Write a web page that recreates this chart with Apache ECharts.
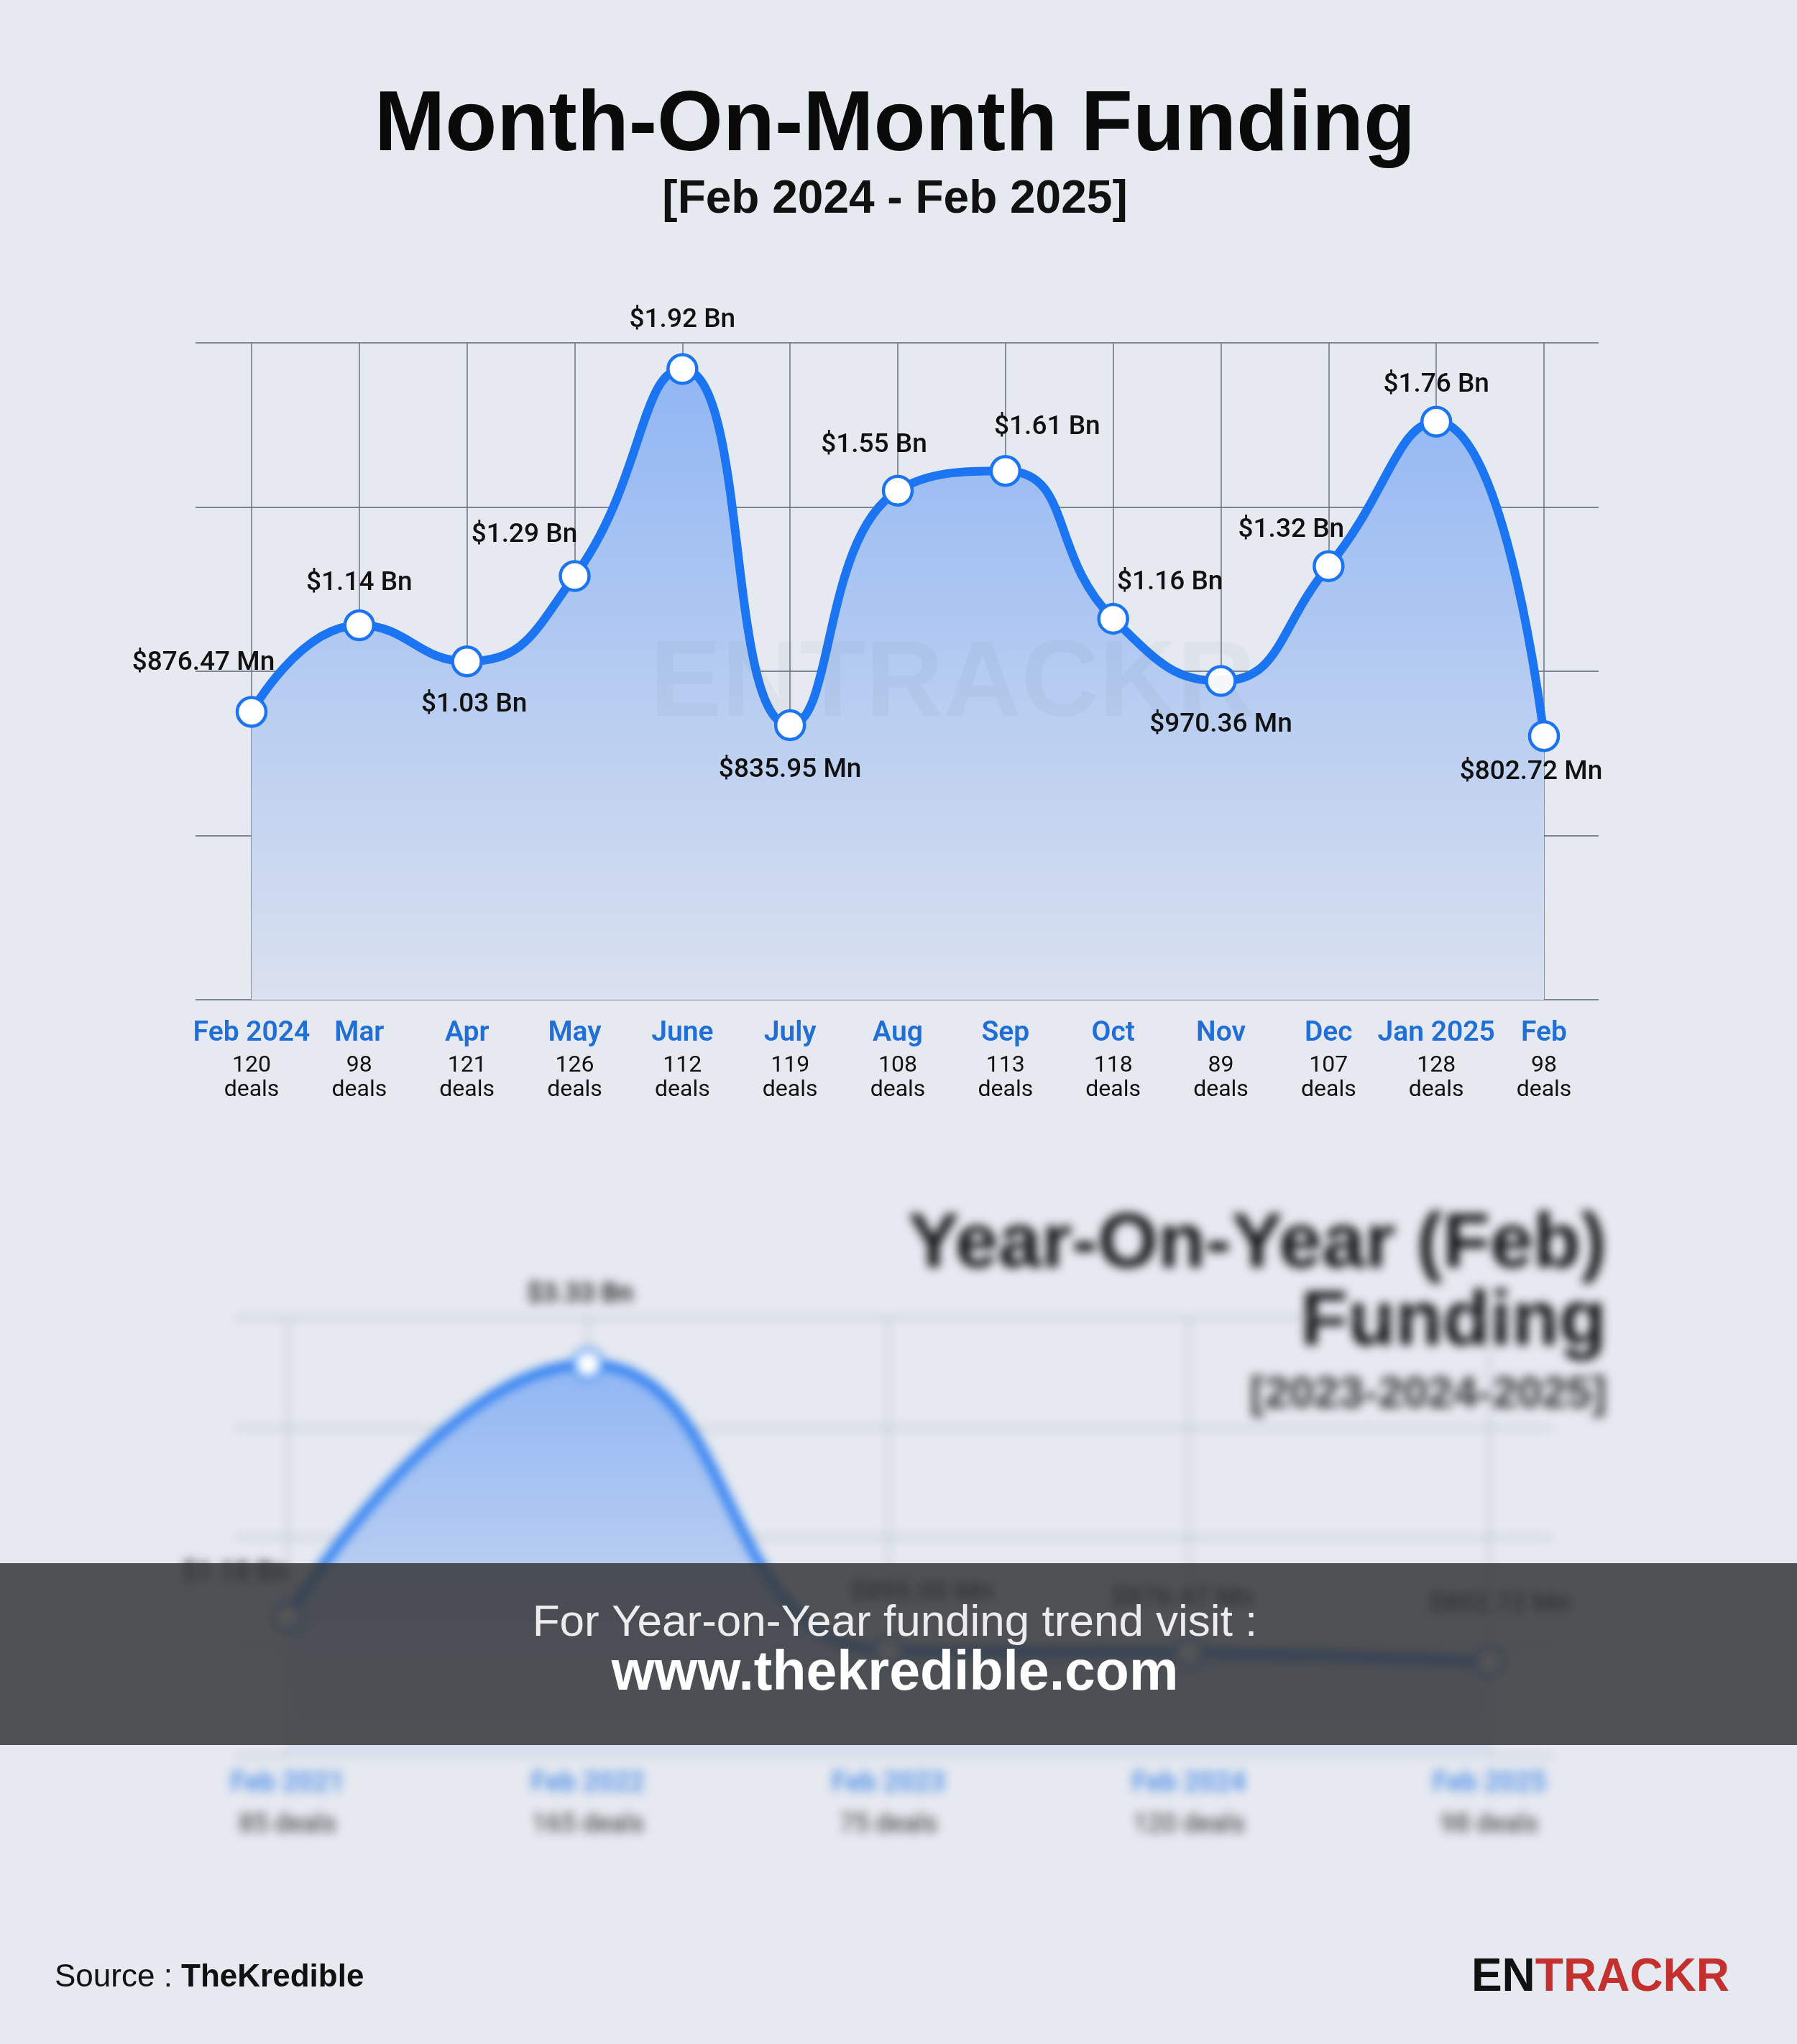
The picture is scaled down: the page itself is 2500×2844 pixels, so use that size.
<!DOCTYPE html>
<html><head><meta charset="utf-8">
<script src="https://cdn.jsdelivr.net/npm/echarts@6/dist/echarts.min.js"></script>
<style>
html,body{margin:0;padding:0;background:#e6e9f0;}
#wrap{position:relative;width:2500px;height:2844px;overflow:hidden;background:#e6e9f0;}
#yoy{position:absolute;left:0;top:1560px;width:2500px;height:1060px;filter:blur(7px);z-index:1;}
#main{position:absolute;left:0;top:0;width:2500px;height:2844px;z-index:2;}
</style></head><body>
<div id="wrap"><div id="yoy"></div><div id="main"></div></div>
<script>
// ---- Month-on-month data ----
const months = ['Feb 2024','Mar','Apr','May','June','July','Aug','Sep','Oct','Nov','Dec','Jan 2025','Feb'];
const fundingMn = [876.47,1140,1030,1290,1920,835.95,1550,1610,1160,970.36,1320,1760,802.72];
const deals = [120,98,121,126,112,119,108,113,118,89,107,128,98];
const yMax = 2000, yStep = 500;

// ---- Year-on-year (Feb) data (blurred panel, estimated) ----
const yoyYears = ['Feb 2021','Feb 2022','Feb 2023','Feb 2024','Feb 2025'];
const yoyFundingMn = [1180,3330,895,876.47,802.72];
const yoyDeals = [85,165,75,120,98];
const yoyMax = 3720, yoyStep = 930;

function fmtMoney(v){ return v >= 1000 ? '$' + (v/1000).toFixed(2) + ' Bn' : '$' + v.toFixed(2) + ' Mn'; }

const FONT = 'Liberation Sans, Arial, Helvetica, sans-serif';
const LFONT = 'Roboto, Liberation Sans, Arial, sans-serif';
const blue = '#1b74f2';

// label placement (style)
const mainLabelOffsets = [[-67,-68],[0,-58],[10,60],[-70,-57],[0,-68],[0,63],[-33,-63],[58,-60],[79,-50],[0,61],[-52,-50],[0,-51],[-18,51]];
const yoyLabelOffsets = [[-73,-60],[-11,-96],[46,-80],[-9,-75],[14,-79]];

function areaGrad(){
  return new echarts.graphic.LinearGradient(0,0,0,1,[
    {offset:0,color:'#90b6f4'},{offset:0.5,color:'#b6ccf1'},{offset:1,color:'#dae1ef'}]);
}

function buildOption(cfg){
  return {
    backgroundColor:'transparent',
    animation:false,
    grid:[
      {left:cfg.lineLeft, top:cfg.top, width:cfg.lineWidth, height:cfg.height},
      {left:cfg.catLeft, top:cfg.top, width:cfg.catWidth, height:cfg.height}
    ],
    xAxis:[
      {gridIndex:0, type:'value', show:false, min:0, max:1},
      {gridIndex:1, type:'category', data:cfg.cats, boundaryGap:false,
        axisLine:{show:false}, axisTick:{show:false},
        splitLine:{show:true, lineStyle:{color:cfg.vColor, width:1.5}},
        axisLabel:{interval:0, margin:cfg.labelMargin, formatter:cfg.labelFmt, rich:cfg.rich}}
    ],
    yAxis:[
      {gridIndex:0, type:'value', min:0, max:cfg.max, interval:cfg.step,
        axisLine:{show:false}, axisTick:{show:false}, axisLabel:{show:false},
        splitLine:{show:true, showMinLine:true, showMaxLine:true, lineStyle:{color:cfg.hColor, width:2}}},
      {gridIndex:1, type:'value', min:0, max:cfg.max, interval:cfg.step, show:false, splitLine:{show:false}}
    ],
    graphic:cfg.graphic,
    series:[{
      type:'line', xAxisIndex:1, yAxisIndex:1,
      data:cfg.values.map((v,i)=>({value:v, label:{offset:cfg.offsets[i]}})),
      smooth:0.5,
      symbol:'circle', symbolSize:40, showAllSymbol:true,
      itemStyle:{color:'#ffffff', borderColor:blue, borderWidth:4.5},
      lineStyle:{color:blue, width:12},
      areaStyle:{color:areaGrad(), opacity:1},
      label:{show:true, position:'inside', align:'center', verticalAlign:'middle',
        formatter:p=>fmtMoney(p.value), color:'#111', fontSize:37, fontWeight:500, fontFamily:LFONT},
      z:3
    }]
  };
}

// ---- Blurred YoY panel ----
const yoy = echarts.init(document.getElementById('yoy'), null, {renderer:'canvas', width:2500, height:1060});
yoy.setOption(buildOption({
  lineLeft:328, lineWidth:1832, catLeft:400, catWidth:1672, top:274, height:609,
  cats:yoyYears, values:yoyFundingMn, max:yoyMax, step:yoyStep, offsets:yoyLabelOffsets,
  hColor:'#a3aab6', vColor:'#a3aab6', labelMargin:11,
  labelFmt:(v,i)=>`{m|${v}}\n{d|${yoyDeals[i]} deals}`,
  rich:{m:{fontSize:38, fontWeight:600, color:'#4f8fe8', fontFamily:LFONT, lineHeight:56},
        d:{fontSize:36, color:'#333', fontFamily:LFONT, lineHeight:60}},
  graphic:[
    {type:'text', x:2235, y:173, style:{text:'Year-On-Year (Feb)', fontSize:108, fontWeight:'bold', fontFamily:FONT, fill:'#111', textAlign:'right', textVerticalAlign:'middle'}},
    {type:'text', x:2235, y:281, style:{text:'Funding', fontSize:108, fontWeight:'bold', fontFamily:FONT, fill:'#111', textAlign:'right', textVerticalAlign:'middle'}},
    {type:'text', x:2235, y:381, style:{text:'[2023-2024-2025]', fontSize:62, fontWeight:'bold', fontFamily:FONT, fill:'#333', textAlign:'right', textVerticalAlign:'middle'}}
  ]
}));

// ---- Main chart ----
const main = echarts.init(document.getElementById('main'), null, {renderer:'canvas', width:2500, height:2844});
main.setOption(buildOption({
  lineLeft:272, lineWidth:1952, catLeft:350, catWidth:1798, top:477, height:914,
  cats:months, values:fundingMn, max:yMax, step:yStep, offsets:mainLabelOffsets,
  hColor:'#7d8594', vColor:'#6a7385', labelMargin:19,
  labelFmt:(v,i)=>`{m|${v}}\n{d|${deals[i]}}\n{d|deals}`,
  rich:{m:{fontSize:39, fontWeight:600, color:'#1f6fd6', fontFamily:LFONT, lineHeight:56},
        d:{fontSize:32, color:'#111', fontFamily:LFONT, lineHeight:34}},
  graphic:[
    {type:'text', x:1245, y:176, style:{text:'Month-On-Month Funding', fontSize:118, fontWeight:'bold', fontFamily:FONT, fill:'#0a0a0a', textAlign:'center', textVerticalAlign:'middle'}},
    {type:'text', x:1245, y:278, style:{text:'[Feb 2024 - Feb 2025]', fontSize:64, fontWeight:'bold', fontFamily:FONT, fill:'#111', textAlign:'center', textVerticalAlign:'middle'}},
    {type:'text', x:1325, y:955, z:100, style:{text:'ENTRACKR', fontSize:150, fontWeight:'bold', fontFamily:FONT, fill:'rgba(80,95,125,0.05)', textAlign:'center', textVerticalAlign:'middle'}},
    {type:'rect', shape:{x:0, y:2175, width:2500, height:253}, style:{fill:'rgba(55,56,58,0.86)'}},
    {type:'text', x:1245, y:2259, style:{text:'For Year-on-Year funding trend visit :', fontSize:62, fontFamily:FONT, fill:'#ececec', textAlign:'center', textVerticalAlign:'middle'}},
    {type:'text', x:1245, y:2330, style:{text:'www.thekredible.com', fontSize:77, fontWeight:'bold', fontFamily:FONT, fill:'#ffffff', textAlign:'center', textVerticalAlign:'middle'}},
    {type:'text', x:76, y:2752, style:{text:'{r|Source : }{b|TheKredible}', textVerticalAlign:'middle',
      rich:{r:{fontSize:44, fontFamily:FONT, fill:'#111'}, b:{fontSize:44, fontWeight:'bold', fontFamily:FONT, fill:'#111'}}}},
    {type:'text', x:2406, y:2752, style:{text:'{a|EN}{b|TRACKR}', textAlign:'right', textVerticalAlign:'middle',
      rich:{a:{fontSize:64, fontWeight:'bold', fontFamily:FONT, fill:'#111'}, b:{fontSize:64, fontWeight:'bold', fontFamily:FONT, fill:'#c3302e'}}}}
  ]
}));
</script>
</body></html>
